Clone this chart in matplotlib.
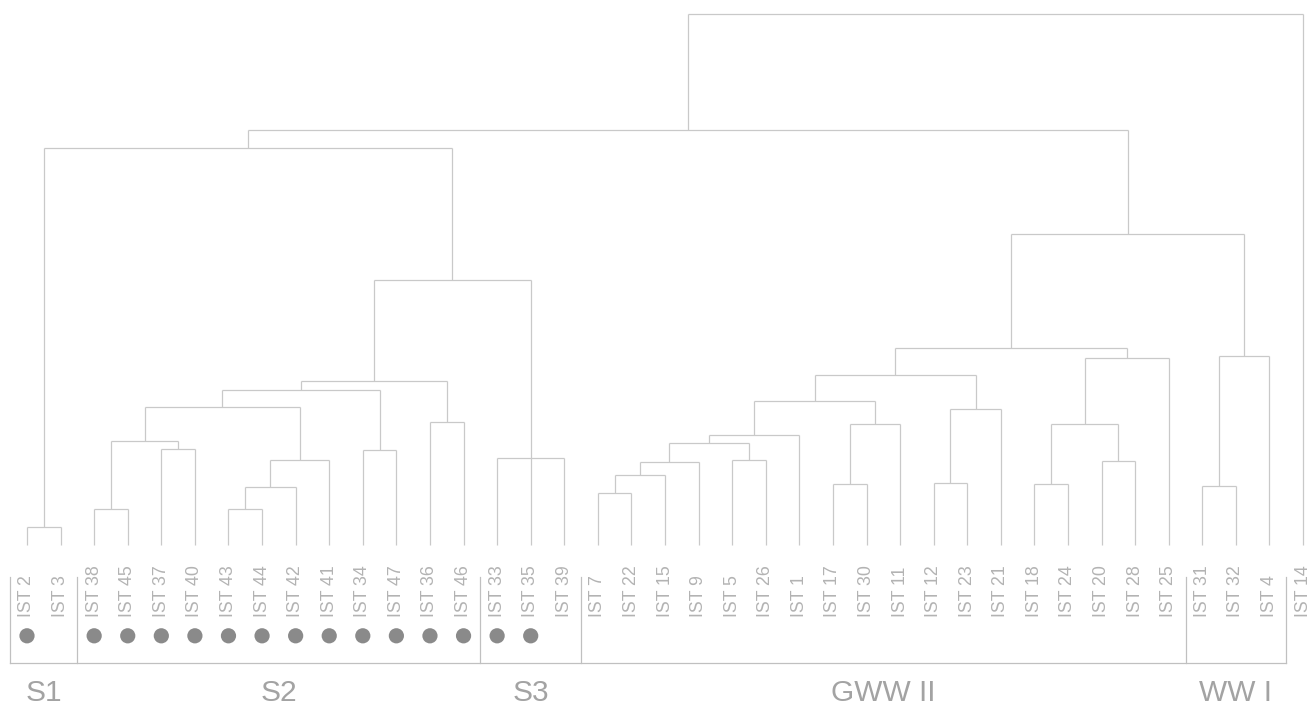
import matplotlib
matplotlib.use("Agg")
import matplotlib.pyplot as plt

plt.rcParams['font.family'] = ['Liberation Sans', 'DejaVu Sans']

# ---- data ----
leaf_labels = ["IST 2", "IST 3", "IST 38", "IST 45", "IST 37", "IST 40", "IST 43",
               "IST 44", "IST 42", "IST 41", "IST 34", "IST 47", "IST 36", "IST 46",
               "IST 33", "IST 35", "IST 39", "IST 7", "IST 22", "IST 15", "IST 9",
               "IST 5", "IST 26", "IST 1", "IST 17", "IST 30", "IST 11", "IST 12",
               "IST 23", "IST 21", "IST 18", "IST 24", "IST 20", "IST 28", "IST 25",
               "IST 31", "IST 32", "IST 4", "IST 14"]

# leaves that carry a dot marker
marked = ["IST 2", "IST 38", "IST 45", "IST 37", "IST 40", "IST 43", "IST 44",
          "IST 42", "IST 41", "IST 34", "IST 47", "IST 36", "IST 46", "IST 33", "IST 35"]

# merges: children ids (0..38 leaves, 39+ previous merges) and merge height
merge_children = [
    (0, 1), (2, 3), (4, 5), (40, 41), (6, 7), (43, 8), (44, 9), (42, 45),
    (10, 11), (46, 47), (12, 13), (48, 49), (14, 15, 16), (50, 51), (39, 52),
    (17, 18), (54, 19), (55, 20), (21, 22), (56, 57), (58, 23), (24, 25),
    (60, 26), (59, 61), (27, 28), (63, 29), (62, 64), (30, 31), (32, 33),
    (66, 67), (68, 34), (65, 69), (35, 36), (71, 37), (70, 72), (53, 73),
    (74, 38),
]
merge_heights = [
    3.3, 6.8, 18.0, 19.5, 6.8, 11.0, 16.1, 25.9,
    17.8, 29.1, 23.2, 30.9, 16.4, 49.9, 74.8,
    9.8, 13.2, 15.6, 16.0, 19.3, 20.8, 11.5,
    22.7, 27.2, 11.7, 25.7, 32.1, 11.5, 15.8,
    22.7, 35.2, 37.1, 11.1, 35.6, 58.6, 78.2,
    100.0,
]

group_names = ["S1", "S2", "S3", "GWW II", "WW I"]
group_first = [0, 2, 14, 17, 35]
group_last = [1, 13, 16, 34, 37]

# ---- styling ----
line_col = "#c9c9c9"
text_col = "#b3b3b3"
group_col = "#a3a3a3"
dot_col = "#8a8a8a"

fig = plt.figure(figsize=(13.14, 7.06), dpi=100)
ax = fig.add_axes([0, 0, 1, 1])
ax.set_xlim(-0.804, 38.326)
ax.set_ylim(-30.32, 102.64)
ax.axis("off")

n = len(leaf_labels)
xpos = {i: float(i) for i in range(n)}
hpos = {i: 0.0 for i in range(n)}

for k, (kids, h) in enumerate(zip(merge_children, merge_heights)):
    nid = n + k
    xs = [xpos[c] for c in kids]
    for c in kids:
        ax.plot([xpos[c], xpos[c]], [hpos[c], h], color=line_col, lw=0.9,
                solid_capstyle="butt")
    ax.plot([min(xs), max(xs)], [h, h], color=line_col, lw=0.9,
            solid_capstyle="butt")
    xpos[nid] = sum(xs) / len(xs)
    hpos[nid] = h

# leaf labels
label_y = -13.6
for i, lab in enumerate(leaf_labels):
    ax.text(i, label_y, lab, rotation=90, ha="center", va="bottom",
            fontsize=12.8, color=text_col)

# dots
mx = [leaf_labels.index(m) for m in marked]
ax.scatter(mx, [-17.1] * len(mx), s=120, color=dot_col, edgecolors="none", zorder=3)

# group boxes
box_top, box_bot = -6.0, -22.2
left = group_first[0] - 0.5
right = group_last[-1] + 0.5
ax.plot([left, right], [box_bot, box_bot], color="#c0c0c0", lw=0.9)
edges = [left] + [g + 0.5 for g in group_last]
for e in edges:
    ax.plot([e, e], [box_top, box_bot], color="#c0c0c0", lw=0.9)

for name, a, b in zip(group_names, group_first, group_last):
    ax.text((a + b) / 2, -27.8, name, ha="center", va="center",
            fontsize=21.5, color=group_col)

fig.savefig("out.png", dpi=100)
